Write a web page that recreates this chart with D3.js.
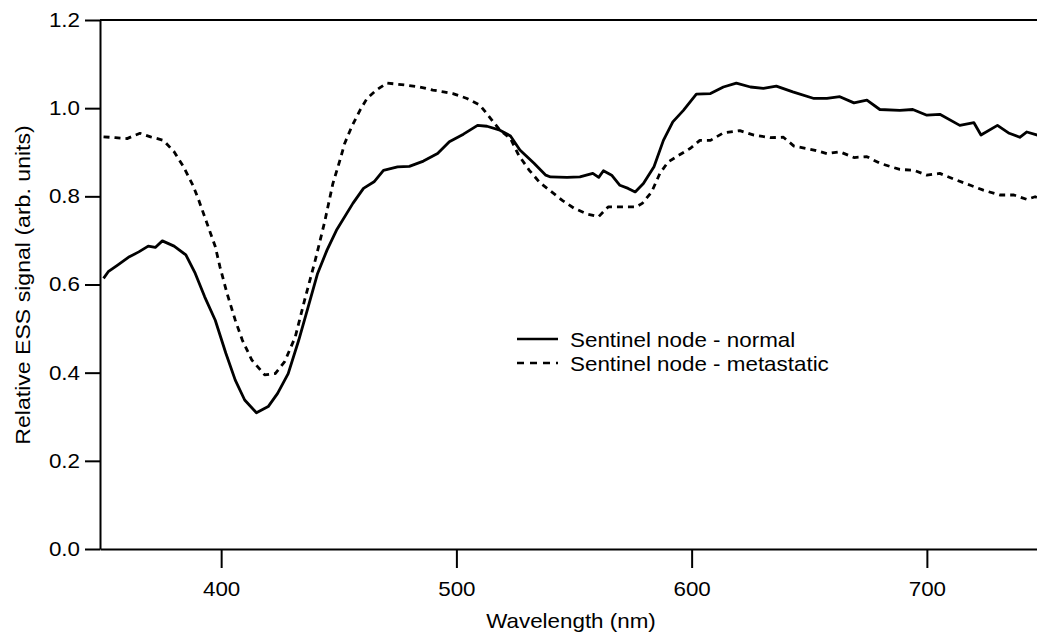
<!DOCTYPE html>
<html>
<head>
<meta charset="utf-8">
<script src="https://cdn.jsdelivr.net/npm/d3@7"></script>
<style>
  html, body { margin: 0; padding: 0; background: #fff; }
  svg { display: block; }
  text { font-family: "Liberation Sans", Arial, sans-serif; fill: #000; }
</style>
</head>
<body>
<svg id="chart" width="1037" height="640"></svg>
<script>
// ---- data ----
const normalWavelength = [350,352,356,361,365,369,372,375,380,385,389,393,397.5,402,406,410,415,420,424,428.5,433,437,441,445,449,456,460.5,465,469,475,480,486,492,497,503,509,513,518.5,523,527,533,538,540,547,552.5,558,560.5,562.5,566,569.5,573,576,579.5,584,588,592,596.5,602,608,613.5,619,625,630.5,636,643,652,657.5,663,669,674.5,680,688.5,694,700,705.5,714,720,723,730,735,739.5,742.5,747,750];
const normalValue = [0.614,0.629,0.644,0.663,0.674,0.687,0.684,0.699,0.687,0.667,0.625,0.572,0.519,0.444,0.383,0.338,0.309,0.323,0.353,0.398,0.474,0.549,0.625,0.678,0.723,0.784,0.818,0.833,0.859,0.867,0.868,0.880,0.897,0.924,0.941,0.961,0.959,0.950,0.937,0.905,0.875,0.848,0.844,0.843,0.844,0.852,0.843,0.858,0.848,0.825,0.818,0.810,0.829,0.867,0.927,0.969,0.995,1.032,1.033,1.048,1.057,1.048,1.045,1.050,1.037,1.022,1.022,1.026,1.012,1.018,0.997,0.995,0.997,0.984,0.986,0.961,0.967,0.939,0.961,0.943,0.934,0.946,0.939,0.940];

const metastaticWavelength = [350,355,360,365.5,370,375.5,380,384,388,390.5,394.5,397.5,399.5,402.5,406,409,413,418.5,423,427,431.5,435.5,440,444,447.5,450.5,452.5,455.5,459,462,466,470.5,479,484.5,490,494.5,498.5,504.5,510,514.5,518.5,523,526.5,531,535.5,540.5,545,550,555.5,560.5,564.5,569.5,576.5,579,583,586.5,590,594.5,599.5,603.5,608,613.5,620.5,626.5,633.5,639,643.5,652,657.5,663,669,674.5,680,688.5,694.5,700,705.5,712.5,718.5,724,731,737,742.5,746,750];
const metastaticValue = [0.935,0.933,0.931,0.943,0.935,0.927,0.901,0.867,0.825,0.791,0.731,0.686,0.640,0.580,0.519,0.474,0.429,0.395,0.398,0.425,0.481,0.565,0.655,0.742,0.829,0.882,0.920,0.958,0.995,1.022,1.041,1.057,1.052,1.048,1.041,1.037,1.033,1.022,1.007,0.977,0.950,0.931,0.893,0.859,0.831,0.810,0.791,0.773,0.760,0.754,0.776,0.776,0.776,0.784,0.810,0.852,0.878,0.893,0.909,0.927,0.927,0.944,0.949,0.939,0.933,0.934,0.914,0.905,0.897,0.901,0.888,0.890,0.875,0.861,0.859,0.848,0.852,0.837,0.825,0.814,0.803,0.803,0.793,0.799,0.790];

const xTicks = [400, 500, 600, 700];
const yTicks = [0.0, 0.2, 0.4, 0.6, 0.8, 1.0, 1.2];
const seriesNames = ["Sentinel node - normal", "Sentinel node - metastatic"];
const xLabel = "Wavelength (nm)";
const yLabel = "Relative ESS signal (arb. units)";

// ---- layout ----
const svg = d3.select("#chart");
const W = 1037;
const x = d3.scaleLinear().domain([348.5, 750]).range([100, 1044.5]);
const y = d3.scaleLinear().domain([0, 1.2]).range([549, 20]);
const FS = 20, SX = 1.12;

// frame: top line
svg.append("line")
  .attr("x1", x.range()[0]).attr("x2", W + 5)
  .attr("y1", y(1.2)).attr("y2", y(1.2))
  .attr("stroke", "#000").attr("stroke-width", 2);

// y axis
const gy = svg.append("g")
  .attr("transform", `translate(${x.range()[0]},0)`)
  .call(d3.axisLeft(y).tickValues(yTicks).tickFormat(d3.format(".1f")).tickSize(15).tickPadding(5).tickSizeOuter(0));
// x axis
const gx = svg.append("g")
  .attr("transform", `translate(0,${y(0)})`)
  .call(d3.axisBottom(x).tickValues(xTicks).tickFormat(d3.format("d")).tickSize(19).tickPadding(14).tickSizeOuter(0));

[gx, gy].forEach(g => {
  g.select(".domain").attr("stroke", "#000").attr("stroke-width", 2);
  g.selectAll(".tick line").attr("stroke", "#000").attr("stroke-width", 2);
  g.selectAll(".tick text")
    .attr("font-family", "Liberation Sans, Arial, sans-serif")
    .attr("font-size", FS).attr("fill", "#000")
    .attr("transform", `scale(${SX},1)`);
});
gy.selectAll(".tick text").attr("x", -20 / SX);

// clip plot area
svg.append("clipPath").attr("id", "clip")
  .append("rect").attr("x", 100).attr("y", 0).attr("width", W - 100).attr("height", 560);

const line = d3.line().x(d => x(d[0])).y(d => y(d[1])).curve(d3.curveLinear);
const normal = normalWavelength.map((w, i) => [w, normalValue[i]]);
const meta = metastaticWavelength.map((w, i) => [w, metastaticValue[i]]);

const plot = svg.append("g").attr("clip-path", "url(#clip)");
plot.append("path").datum(meta).attr("d", line)
  .attr("fill", "none").attr("stroke", "#000").attr("stroke-width", 2.8)
  .attr("stroke-dasharray", "6,5").attr("stroke-linejoin", "round");
plot.append("path").datum(normal).attr("d", line)
  .attr("fill", "none").attr("stroke", "#000").attr("stroke-width", 2.8)
  .attr("stroke-linejoin", "round");

// axis labels
svg.append("g").attr("transform", "translate(571,628)")
  .append("text").attr("text-anchor", "middle").attr("font-size", FS)
  .attr("transform", `scale(${SX},1)`).text(xLabel);

svg.append("g").attr("transform", "translate(30,285) rotate(-90)")
  .append("text").attr("text-anchor", "middle").attr("font-size", 21)
  .attr("transform", `scale(1.1,1)`).text(yLabel);

// legend
const legend = svg.append("g");
const legY = [339, 363];
const legDash = [null, "7,6"];
seriesNames.forEach((name, i) => {
  legend.append("line")
    .attr("x1", 517).attr("x2", 558).attr("y1", legY[i]).attr("y2", legY[i])
    .attr("stroke", "#000").attr("stroke-width", 2.5)
    .attr("stroke-dasharray", legDash[i]);
  legend.append("g").attr("transform", `translate(570,${legY[i] + 8})`)
    .append("text").attr("font-size", FS)
    .attr("transform", `scale(${SX},1)`).text(name);
});
</script>
</body>
</html>
